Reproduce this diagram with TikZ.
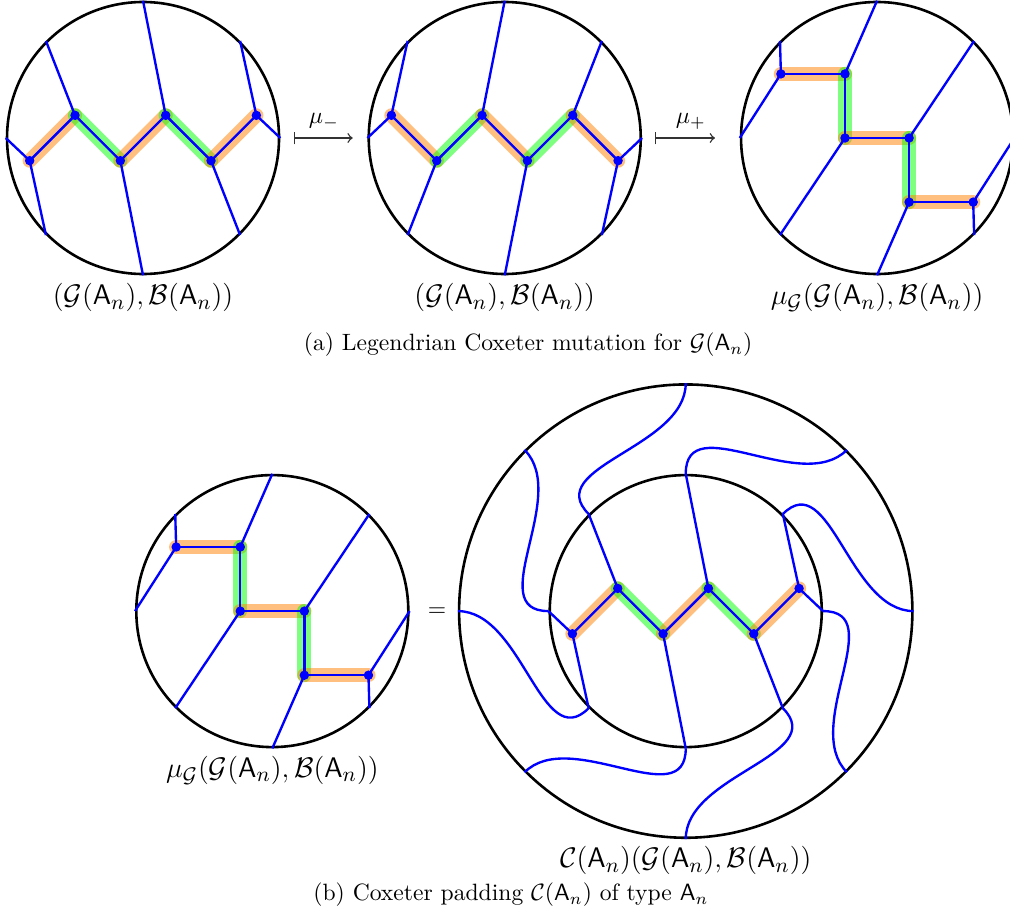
\documentclass[tikz,border=0pt]{standalone}
\usepackage{amsmath,amssymb}
\usetikzlibrary{arrows.meta, positioning, calc}

\begin{document}
\begin{tikzpicture}[
    x=0.675cm, y=0.675cm,
    disk/.style={circle, draw, line width=1.1pt, minimum size=4.05cm, inner sep=0pt},
    bigdisk/.style={disk, minimum size=6.75cm},
    edge/.style={blue, line width=1pt},
    hlo/.style={orange, opacity=0.5, line width=6pt, line cap=round},
    hlg/.style={green, opacity=0.5, line width=6pt, line cap=round},
    mapsto/.style={|->, >=to, semithick, black!80},
    lbl/.style={font=\fontsize{13}{16}\selectfont}
]
    \useasboundingbox (0,0) rectangle (22.28,-20.14);
    \coordinate (P1) at (3.155,-3.044);
    \coordinate (P2) at (11.134,-3.044);
    \coordinate (P3) at (19.347,-3.044);
    \coordinate (P4) at (6.007,-13.48);
    \coordinate (P5) at (15.127,-13.48);

    % (a) three disks
    \node[disk] (disk1) at (P1) {};
    \node[disk] (disk2) at (P2) {};
    \node[disk] (disk3) at (P3) {};
    \begin{scope}[shift={(P1)}]
        \coordinate (a1) at (-2.5,-0.5); \coordinate (a2) at (-1.5,0.5);
        \coordinate (a3) at (-0.5,-0.5); \coordinate (a4) at (0.5,0.5);
        \coordinate (a5) at (1.5,-0.5);  \coordinate (a6) at (2.5,0.5);
    \end{scope}
    \begin{scope}[shift={(P2)}]
        \coordinate (b1) at (-2.5,0.5);  \coordinate (b2) at (-1.5,-0.5);
        \coordinate (b3) at (-0.5,0.5);  \coordinate (b4) at (0.5,-0.5);
        \coordinate (b5) at (1.5,0.5);   \coordinate (b6) at (2.5,-0.5);
    \end{scope}
    \begin{scope}[shift={(P3)}]
        \coordinate (c1) at (-2.121,1.414); \coordinate (c2) at (-0.707,1.414);
        \coordinate (c3) at (-0.707,0);     \coordinate (c4) at (0.707,0);
        \coordinate (c5) at (0.707,-1.414); \coordinate (c6) at (2.121,-1.414);
    \end{scope}

    \draw[hlo] (a1) -- (a2); \draw[hlg] (a2) -- (a3); \draw[hlo] (a3) -- (a4);
    \draw[hlg] (a4) -- (a5); \draw[hlo] (a5) -- (a6);
    \draw[edge] (a1) -- (a2) -- (a3) -- (a4) -- (a5) -- (a6);
    \draw[edge] (disk1.180) -- (a1) -- (disk1.225);
    \draw[edge] (a2) -- (disk1.135);
    \draw[edge] (a3) -- (disk1.270);
    \draw[edge] (a4) -- (disk1.90);
    \draw[edge] (a5) -- (disk1.315);
    \draw[edge] (disk1.45) -- (a6) -- (disk1.0);

    \draw[hlo] (b1) -- (b2); \draw[hlg] (b2) -- (b3); \draw[hlo] (b3) -- (b4);
    \draw[hlg] (b4) -- (b5); \draw[hlo] (b5) -- (b6);
    \draw[edge] (b1) -- (b2) -- (b3) -- (b4) -- (b5) -- (b6);
    \draw[edge] (disk2.135) -- (b1) -- (disk2.180);
    \draw[edge] (b2) -- (disk2.225);
    \draw[edge] (b3) -- (disk2.90);
    \draw[edge] (b4) -- (disk2.270);
    \draw[edge] (b5) -- (disk2.45);
    \draw[edge] (disk2.0) -- (b6) -- (disk2.315);

    \draw[hlo] (c1) -- (c2); \draw[hlg] (c2) -- (c3); \draw[hlo] (c3) -- (c4);
    \draw[hlg] (c4) -- (c5); \draw[hlo] (c5) -- (c6);
    \draw[edge] (c1) -- (c2) -- (c3) -- (c4) -- (c5) -- (c6);
    \draw[edge] (disk3.135) -- (c1) -- (disk3.180);
    \draw[edge] (c2) -- (disk3.90);
    \draw[edge] (c3) -- (disk3.225);
    \draw[edge] (c4) -- (disk3.45);
    \draw[edge] (c5) -- (disk3.270);
    \draw[edge] (disk3.0) -- (c6) -- (disk3.315);

    \foreach \v in {a1,a2,a3,a4,a5,a6,b1,b2,b3,b4,b5,b6,c1,c2,c3,c4,c5,c6}
        \fill[blue] (\v) circle (2pt);

    \draw[mapsto, shorten <=0.2cm, shorten >=0.22cm] (disk1) -- node[above, black] {$\mu_-$} (disk2);
    \draw[mapsto, shorten <=0.19cm, shorten >=0.37cm] (disk2) -- node[above, black] {$\mu_+$} (disk3);

    \node[lbl] (l1) at (3.155,-6.57) {$(\mathcal{G}(\mathsf{A}_n),\mathcal{B}(\mathsf{A}_n))$};
    \node[lbl] (l2) at (11.134,-6.57) {$(\mathcal{G}(\mathsf{A}_n),\mathcal{B}(\mathsf{A}_n))$};
    \node[lbl] (l3) at (19.347,-6.57) {$\mu_{\mathcal{G}}(\mathcal{G}(\mathsf{A}_n),\mathcal{B}(\mathsf{A}_n))$};
    \node (capa) at (11.65,-7.61) {(a) Legendrian Coxeter mutation for $\mathcal{G}(\mathsf{A}_n)$};

    % (b) padding
    \node[disk] (disk4) at (P4) {};
    \node[disk] (disk5) at (P5) {};
    \node[bigdisk] (pad) at (P5) {};
    \begin{scope}[shift={(P4)}]
        \coordinate (m1) at (-2.121,1.414); \coordinate (m2) at (-0.707,1.414);
        \coordinate (m3) at (-0.707,0);     \coordinate (m4) at (0.707,0);
        \coordinate (m5) at (0.707,-1.414); \coordinate (m6) at (2.121,-1.414);
    \end{scope}
    \begin{scope}[shift={(P5)}]
        \coordinate (z1) at (-2.5,-0.5); \coordinate (z2) at (-1.5,0.5);
        \coordinate (z3) at (-0.5,-0.5); \coordinate (z4) at (0.5,0.5);
        \coordinate (z5) at (1.5,-0.5);  \coordinate (z6) at (2.5,0.5);
        \foreach \t/\s in {0/315, 45/0, 90/45, 135/90, 180/135, 225/180, 270/225, 315/270}
            \draw[edge] (disk5.\t) .. controls (\t:4.5) and (\s:3.6) .. (pad.\s);
    \end{scope}

    \draw[hlo] (m1) -- (m2); \draw[hlg] (m2) -- (m3); \draw[hlo] (m3) -- (m4);
    \draw[hlg] (m4) -- (m5); \draw[hlo] (m5) -- (m6);
    \draw[edge] (m1) -- (m2) -- (m3) -- (m4) -- (m5) -- (m6);
    \draw[edge] (disk4.135) -- (m1) -- (disk4.180);
    \draw[edge] (m2) -- (disk4.90);
    \draw[edge] (m3) -- (disk4.225);
    \draw[edge] (m4) -- (disk4.45);
    \draw[edge] (m5) -- (disk4.270);
    \draw[edge] (disk4.0) -- (m6) -- (disk4.315);

    \draw[hlo] (z1) -- (z2); \draw[hlg] (z2) -- (z3); \draw[hlo] (z3) -- (z4);
    \draw[hlg] (z4) -- (z5); \draw[hlo] (z5) -- (z6);
    \draw[edge] (z1) -- (z2) -- (z3) -- (z4) -- (z5) -- (z6);
    \draw[edge] (disk5.180) -- (z1) -- (disk5.225);
    \draw[edge] (z2) -- (disk5.135);
    \draw[edge] (z3) -- (disk5.270);
    \draw[edge] (z4) -- (disk5.90);
    \draw[edge] (z5) -- (disk5.315);
    \draw[edge] (disk5.45) -- (z6) -- (disk5.0);

    \foreach \v in {m1,m2,m3,m4,m5,m6,z1,z2,z3,z4,z5,z6}
        \fill[blue] (\v) circle (2pt);

    \node (eq) at (9.64,-13.5) {$=$};
    \node[lbl] (l4) at (6.007,-16.99) {$\mu_{\mathcal{G}}(\mathcal{G}(\mathsf{A}_n),\mathcal{B}(\mathsf{A}_n))$};
    \node[lbl] (l5) at (15.127,-18.99) {$\mathcal{C}(\mathsf{A}_n)(\mathcal{G}(\mathsf{A}_n),\mathcal{B}(\mathsf{A}_n))$};
    \node (capb) at (11.27,-19.74) {(b) Coxeter padding $\mathcal{C}(\mathsf{A}_n)$ of type $\mathsf{A}_n$};
\end{tikzpicture}
\end{document}
